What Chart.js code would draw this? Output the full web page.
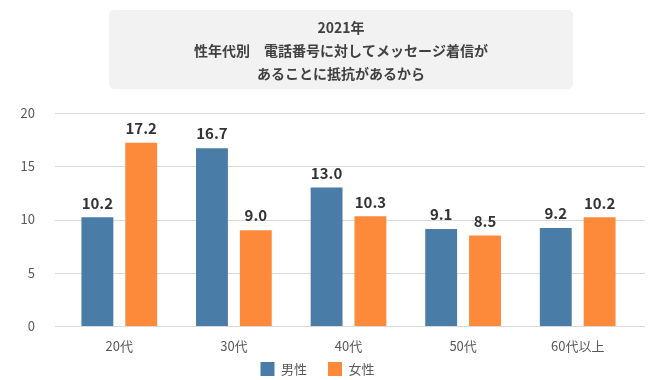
<!DOCTYPE html>
<html>
<head>
<meta charset="utf-8">
<script src="https://cdn.jsdelivr.net/npm/chart.js@4"></script>
<style>
  html, body { margin: 0; padding: 0; background: #fff; }
  #wrap { width: 670px; height: 380px; }
</style>
</head>
<body>
<div id="wrap"><canvas id="chart" width="670" height="380"></canvas></div>
<script>
// data
const titleLines = ["2021年", "性年代別　電話番号に対してメッセージ着信が", "あることに抵抗があるから"];
const categories = ["20代", "30代", "40代", "50代", "60代以上"];
const seriesNames = ["男性", "女性"];
const maleValues = [10.2, 16.7, 13.0, 9.1, 9.2];
const femaleValues = [17.2, 9.0, 10.3, 8.5, 10.2];
const yTicks = [0, 5, 10, 15, 20];

const FONT = "'Noto Sans CJK JP', 'Noto Sans', sans-serif";
const BLUE = "#4a7ca8";
const ORANGE = "#fd8a3b";

// gray rounded box + title text
const titleBox = {
    id: "titleBox",
    beforeDraw(chart) {
        const ctx = chart.ctx;
        ctx.save();
        ctx.fillStyle = "#f2f2f2";
        ctx.beginPath();
        ctx.roundRect(109, 10, 464, 79, 5);
        ctx.fill();
        ctx.fillStyle = "#404040";
        ctx.font = "bold 14px " + FONT;
        ctx.textAlign = "center";
        ctx.textBaseline = "middle";
        titleLines.forEach((t, i) => ctx.fillText(t, 341, 28 + i * 23));
        ctx.restore();
    }
};

// horizontal gridlines, a little wider than the plot area
const gridLines = {
    id: "gridLines",
    beforeDatasetsDraw(chart) {
        const { ctx, chartArea, scales } = chart;
        ctx.save();
        ctx.strokeStyle = "#d9d9d9";
        ctx.lineWidth = 1;
        scales.y.ticks.forEach(t => {
            const y = Math.round(scales.y.getPixelForValue(t.value)) + 0.5;
            ctx.beginPath();
            ctx.moveTo(chartArea.left - 7, y);
            ctx.lineTo(chartArea.right + 10, y);
            ctx.stroke();
        });
        ctx.restore();
    }
};

// value labels on top of bars
const valueLabels = {
    id: "valueLabels",
    afterDatasetsDraw(chart) {
        const ctx = chart.ctx;
        ctx.save();
        ctx.fillStyle = "#333333";
        ctx.font = "bold 15px " + FONT;
        ctx.textAlign = "center";
        ctx.textBaseline = "bottom";
        chart.data.datasets.forEach((ds, i) => {
            chart.getDatasetMeta(i).data.forEach((bar, j) => {
                ctx.fillText(ds.data[j].toFixed(1), bar.x, bar.y - 7);
            });
        });
        ctx.restore();
    }
};

new Chart(document.getElementById("chart"), {
    type: "bar",
    data: {
        labels: categories,
        datasets: [
            { label: seriesNames[0], data: maleValues, backgroundColor: BLUE },
            { label: seriesNames[1], data: femaleValues, backgroundColor: ORANGE }
        ]
    },
    options: {
        responsive: false,
        animation: false,
        devicePixelRatio: 1,
        categoryPercentage: 0.765,
        barPercentage: 0.727,
        layout: { padding: { top: 113, right: 35, left: 0, bottom: -6 } },
        scales: {
            x: {
                // mirrored labels with negative padding so they are not clipped to the thin axis box
                afterFit: s => { s.height = 15; },
                grid: { display: false, drawTicks: false },
                border: { display: false },
                ticks: {
                    color: "#595959",
                    font: { family: FONT, size: 13 },
                    mirror: true,
                    padding: -28,
                    autoSkip: false,
                    maxRotation: 0
                }
            },
            y: {
                min: 0,
                max: 20,
                afterBuildTicks: s => { s.ticks = yTicks.map(v => ({ value: v })); },
                afterFit: s => { s.width = 62; },
                grid: { display: false },
                border: { display: false },
                ticks: { color: "#595959", font: { family: FONT, size: 13 }, padding: 19 }
            }
        },
        plugins: {
            title: { display: false },
            tooltip: { enabled: false },
            legend: {
                position: "bottom",
                labels: {
                    boxWidth: 14,
                    boxHeight: 14,
                    padding: 21,
                    color: "#595959",
                    font: { family: FONT, size: 13 }
                }
            }
        }
    },
    plugins: [titleBox, gridLines, valueLabels]
});
</script>
</body>
</html>
